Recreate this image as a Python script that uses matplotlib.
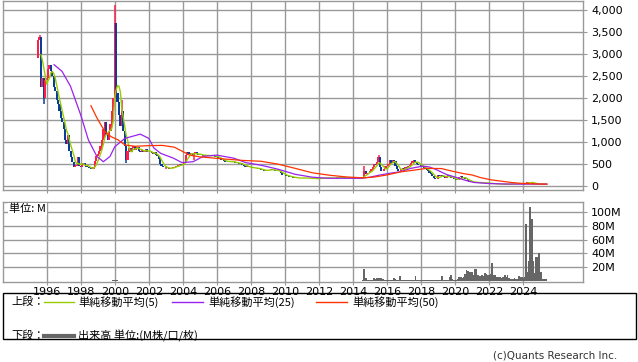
import numpy as np
import pandas as pd
import matplotlib
matplotlib.use('Agg')
from matplotlib import pyplot as plt
from matplotlib.patches import Rectangle
from matplotlib.lines import Line2D

plt.rcParams['font.family'] = ['DejaVu Sans', 'Noto Sans CJK JP']

# monthly closes, first month = 1995-07
start_year = 1995.5
first_open = 2900
close = [
    3300, 3380, 2250, 2450, 2000, 2400,                                  # 1995 (Jul-Dec)
    2450, 2650, 2750, 2600, 2500, 2250, 2150, 1950, 1850, 1700, 1550, 1450,  # 1996
    1300, 1050, 950, 1150, 800, 650, 550, 430, 460, 480, 650, 450,        # 1997
    430, 480, 510, 470, 440, 420, 400, 380, 390, 420, 560, 680,           # 1998
    720, 800, 900, 1050, 1300, 1450, 1150, 1050, 1250, 1400, 1700, 2000,  # 1999
    3700, 2100, 1900, 1600, 1350, 1700, 1250, 900, 600, 800, 850, 780,    # 2000
    850, 900, 820, 870, 880, 800, 780, 820, 760, 800, 830, 780,           # 2001
    780, 760, 740, 720, 760, 700, 680, 620, 500, 450, 430, 420,           # 2002
    420, 400, 390, 400, 410, 430, 440, 460, 450, 470, 500, 480,           # 2003
    490, 520, 700, 760, 730, 720, 740, 710, 730, 760, 720, 700,           # 2004
    700, 710, 690, 700, 680, 690, 700, 680, 690, 700, 670, 660,           # 2005
    650, 640, 620, 600, 580, 560, 550, 540, 560, 570, 550, 540,           # 2006
    540, 530, 510, 520, 500, 510, 480, 450, 440, 450, 430, 420,           # 2007
    420, 410, 400, 410, 400, 390, 380, 370, 360, 340, 350, 360,           # 2008
    370, 360, 380, 370, 360, 350, 350, 340, 330, 290, 260, 250,           # 2009
    240, 230, 220, 210, 200, 200, 190, 190, 185, 180, 170, 180,           # 2010
    190, 185, 170, 175, 180, 180, 175, 170, 165, 170, 165, 160,           # 2011
    170, 180, 190, 185, 180, 175, 180, 185, 180, 175, 180, 185,           # 2012
    190, 200, 195, 190, 185, 190, 185, 180, 185, 190, 185, 180,           # 2013
    180, 180, 175, 180, 185, 180, 190, 190, 330, 280, 300, 300,           # 2014
    350, 380, 420, 500, 480, 550, 650, 420, 350, 330, 380, 450,           # 2015
    450, 500, 580, 520, 600, 560, 450, 380, 330, 350, 380, 400,           # 2016
    390, 420, 410, 450, 480, 520, 560, 590, 540, 500, 480, 470,           # 2017
    450, 420, 400, 380, 360, 340, 300, 270, 230, 180, 150, 160,           # 2018
    240, 230, 260, 220, 200, 190, 210, 260, 200, 180, 170, 160,           # 2019
    150, 130, 140, 200, 230, 190, 170, 160, 150, 110, 100, 95,            # 2020
    90, 85, 80, 78, 75, 72, 75, 70, 72, 70, 68, 65,                       # 2021
    60, 55, 55, 50, 48, 45, 45, 42, 42, 40, 40, 38,                       # 2022
    38, 40, 42, 45, 45, 48, 50, 48, 45, 45, 48, 50,                       # 2023
    50, 55, 60, 90, 80, 85, 75, 55, 50, 48, 45, 45,                       # 2024
    45, 42, 40, 42, 40,                                                   # 2025
]

# months with visible wicks (index from 1995-07)
wick_high = {1: 3430, 54: 4100, 59: 1950, 110: 600, 230: 450, 240: 700, 346: 100}
wick_low = {4: 1850, 62: 520, 90: 380}

# longer moving averages (year, value)
ma25_years = [1996.43, 1996.9, 1997.4, 1998.0, 1998.45, 1998.95, 1999.33, 1999.72, 2000.0,
              2000.6, 2001.5, 2002.0, 2002.3, 2002.7, 2003.45, 2003.95, 2004.6, 2005.2,
              2006.0, 2007.0, 2007.7, 2008.6, 2009.6, 2010.6, 2011.6, 2012.5, 2014.5,
              2015.0, 2015.6, 2016.2, 2016.8, 2017.4, 2018.1, 2018.5, 2018.9, 2019.5,
              2020.1, 2020.6, 2021.1, 2022.0, 2023.0, 2024.0, 2025.4]
ma25_values = [2750, 2600, 2260, 1610, 1045, 670, 550, 670, 890,
               1080, 1175, 1080, 860, 740, 630, 530, 550, 670,
               700, 630, 530, 470, 380, 265, 200, 175, 175,
               200, 250, 290, 325, 400, 450, 430, 370, 260,
               190, 130, 80, 55, 45, 42, 42]
ma50_years = [1998.6, 1998.95, 1999.25, 1999.5, 1999.8, 2000.2, 2000.6, 2001.2, 2002.0,
              2002.8, 2003.5, 2004.0, 2004.4, 2005.0, 2005.6, 2006.5, 2007.5, 2008.6,
              2009.6, 2010.6, 2011.6, 2012.6, 2013.6, 2014.6, 2015.2, 2016.0, 2016.8,
              2017.6, 2018.35, 2019.2, 2019.9, 2020.5, 2021.0, 2021.5, 2022.1, 2022.7,
              2023.3, 2023.9, 2024.7, 2025.4]
ma50_values = [1820, 1545, 1345, 1200, 1115, 1045, 930, 900, 915,
               920, 880, 780, 700, 660, 640, 610, 580, 560,
               495, 400, 300, 245, 205, 185, 200, 250, 320,
               360, 400, 395, 330, 280, 250, 190, 140, 110,
               80, 60, 47, 42]

# monthly volume in millions
volume = [
    0.1, 0.1, 0.1, 0.1, 0.1, 0.1,                                          # 1995
    0.1, 0.1, 0.1, 0.1, 0.1, 0.1, 0.1, 0.1, 0.1, 0.1, 0.1, 0.1,            # 1996
    0.1, 0.1, 0.1, 0.1, 0.1, 0.1, 0.1, 0.1, 0.1, 0.1, 0.1, 0.1,            # 1997
    0.1, 0.1, 0.1, 0.1, 0.1, 0.1, 0.1, 0.1, 0.1, 0.1, 0.1, 0.1,            # 1998
    0.1, 0.1, 0.1, 0.1, 0.1, 0.1, 0.1, 0.1, 0.1, 0.2, 0.3, 0.5,            # 1999
    1.5, 1.0, 0.4, 0.2, 0.1, 0.1, 0.1, 0.1, 0.1, 0.1, 0.1, 0.1,            # 2000
    0.1, 0.1, 0.1, 0.1, 0.1, 0.1, 0.1, 0.1, 0.1, 0.1, 0.1, 0.1,            # 2001
    0.1, 0.1, 0.1, 0.1, 0.1, 0.1, 0.1, 0.1, 0.1, 0.1, 0.1, 0.1,            # 2002
    0.1, 0.1, 0.1, 0.1, 0.1, 0.1, 0.1, 0.1, 0.1, 0.1, 0.1, 0.1,            # 2003
    0.1, 0.1, 0.2, 0.2, 0.1, 0.1, 0.1, 0.1, 0.1, 0.1, 0.1, 0.1,            # 2004
    0.1, 0.1, 0.1, 0.1, 0.1, 0.1, 0.1, 0.1, 0.1, 0.1, 0.1, 0.1,            # 2005
    0.1, 0.1, 0.1, 0.1, 0.1, 0.1, 0.1, 0.1, 0.1, 0.1, 0.1, 0.1,            # 2006
    0.1, 0.1, 0.1, 0.1, 0.1, 0.1, 0.1, 0.1, 0.1, 0.1, 0.1, 0.1,            # 2007
    0.1, 0.1, 0.1, 0.1, 0.1, 0.1, 0.1, 0.1, 0.1, 0.1, 0.1, 0.1,            # 2008
    0.1, 0.1, 0.1, 0.1, 0.1, 0.1, 0.1, 0.1, 0.1, 0.1, 0.1, 0.1,            # 2009
    0.1, 0.1, 0.1, 0.1, 0.1, 0.1, 0.1, 0.1, 0.1, 0.1, 0.1, 0.1,            # 2010
    0.1, 0.1, 0.1, 0.1, 0.1, 0.1, 0.1, 0.1, 0.1, 0.1, 0.1, 0.1,            # 2011
    0.1, 0.1, 0.1, 0.1, 0.1, 0.1, 0.1, 0.1, 0.1, 0.1, 0.1, 0.1,            # 2012
    0.1, 0.1, 0.1, 0.1, 0.1, 0.1, 0.1, 0.1, 0.1, 0.1, 0.1, 0.1,            # 2013
    0.1, 0.1, 0.1, 0.1, 0.2, 0.2, 0.3, 0.5, 17.5, 4.0, 1.0, 0.8,           # 2014
    1.0, 1.0, 1.2, 3.5, 3.0, 3.5, 4.0, 3.5, 3.5, 3.0, 1.5, 1.0,            # 2015
    1.0, 0.8, 0.8, 1.0, 1.2, 4.0, 3.0, 1.0, 1.0, 7.5, 1.5, 1.0,            # 2016
    0.8, 0.8, 0.8, 0.8, 1.0, 1.0, 1.0, 1.0, 7.5, 1.5, 1.0, 1.0,            # 2017
    0.8, 0.8, 0.8, 0.8, 0.8, 0.8, 0.8, 1.0, 1.0, 1.0, 1.0, 1.0,            # 2018
    1.0, 1.0, 1.0, 7.5, 1.5, 1.0, 1.0, 1.0, 6.0, 8.5, 2.0, 1.0,            # 2019
    1.0, 1.0, 2.0, 5.0, 5.0, 4.0, 5.0, 10.0, 15.0, 14.0, 13.0, 12.0,       # 2020
    12.0, 9.0, 17.0, 17.5, 8.0, 7.0, 7.5, 8.5, 7.0, 11.0, 10.0, 8.8,       # 2021
    8.0, 10.0, 26.0, 9.0, 9.0, 6.0, 6.0, 6.0, 5.0, 4.0, 6.0, 8.0,          # 2022
    6.0, 8.5, 4.0, 3.0, 3.0, 3.0, 4.0, 3.0, 3.0, 7.0, 6.0, 5.0,            # 2023
    4.0, 5.0, 82.0, 12.0, 29.0, 108.0, 90.0, 29.0, 11.0, 35.0, 35.0, 41.0, # 2024
    12.0, 13.0, 3.0, 2.0, 2.0,                                             # 2025
]

ma_colors = ['#99CC00', '#9922EE', '#FF3300']
ma_labels = ['単純移動平均(5)', '単純移動平均(25)', '単純移動平均(50)']

price_ticks = [0, 500, 1000, 1500, 2000, 2500, 3000, 3500, 4000]
vol_ticks = [20, 40, 60, 80, 100]
year_ticks = list(range(1996, 2025, 2))

UP = '#FF1E4B'
DOWN = '#0A3C9B'
GRID = '#999999'

n = len(close)
x = start_year + np.arange(n) / 12.0
c = np.array(close, dtype=float)
o = np.concatenate([[first_open], c[:-1]])
hi = np.maximum(o, c)
lo = np.minimum(o, c)
for k, v in wick_high.items():
    hi[k] = v
for k, v in wick_low.items():
    lo[k] = v
colors = [UP if cc >= oo else DOWN for oo, cc in zip(o, c)]

W, H = 638, 362
fig = plt.figure(figsize=(W / 100, H / 100), dpi=100)
left, right = 3.3, 582.7
ax1 = fig.add_axes([left / W, 1 - 190 / H, (right - left) / W, 189.5 / H])
ax2 = fig.add_axes([left / W, 1 - 281.5 / H, (right - left) / W, (281.5 - 201.7) / H])

for ax in (ax1, ax2):
    ax.set_xlim(1993.45, 2027.5)
    ax.set_xticks(year_ticks)
    ax.grid(True, color=GRID, lw=1.0)
    ax.set_axisbelow(True)
    for s in ax.spines.values():
        s.set_color(GRID)
        s.set_linewidth(1.0)
    ax.yaxis.tick_right()
    ax.tick_params(axis='y', length=3, color=GRID, labelsize=8, pad=3)
    ax.tick_params(axis='x', length=2, color=GRID, labelsize=8, pad=2)

# price candles
ax1.vlines(x, lo, hi, colors=colors, lw=1.1, zorder=2)
ax1.bar(x, np.maximum(o, c) - np.minimum(o, c), bottom=np.minimum(o, c),
        width=0.13, color=colors, lw=0, zorder=2)

ma5 = pd.Series(c).rolling(5, min_periods=3).mean()
ax1.plot(x, ma5, color=ma_colors[0], lw=1.0, zorder=3)
ax1.plot(ma25_years, ma25_values, color=ma_colors[1], lw=0.9, zorder=3)
ax1.plot(ma50_years, ma50_values, color=ma_colors[2], lw=0.9, zorder=3)

ax1.set_ylim(-91, 4205)
ax1.set_yticks(price_ticks)
ax1.set_yticklabels([f'{v:,}' for v in price_ticks])
ax1.set_xticklabels([])

# volume
ax2.bar(x, volume, width=0.1, color='#666666', lw=0, zorder=2)
ax2.set_ylim(-1.1, 115)
ax2.set_yticks(vol_ticks)
ax2.set_yticklabels([f'{v}M' for v in vol_ticks])
ax2.set_xticklabels([str(y) for y in year_ticks])

jp = ['Noto Sans CJK JP', 'DejaVu Sans']
fig.text(9 / W, 1 - 209 / H, '単位: M', fontsize=8, va='center', ha='left', family=jp,
         bbox=dict(facecolor='white', edgecolor='none', pad=0.5), zorder=5)

# legend box
fig.add_artist(Rectangle((3 / W, 1 - 339 / H), 633 / W, 46 / H, transform=fig.transFigure,
                         fill=False, edgecolor='black', lw=1.0))
fig.text(11 / W, 1 - 302 / H, '上段：', fontsize=8, va='center', family=jp)
fig.text(11 / W, 1 - 336 / H, '下段：', fontsize=8, va='center', family=jp)
for (x0, x1, tx), col, lab in zip([(44, 74, 78), (172, 203, 208), (316, 347, 352)], ma_colors, ma_labels):
    fig.add_artist(Line2D([x0 / W, x1 / W], [1 - 302 / H] * 2, color=col, lw=1.0,
                          transform=fig.transFigure))
    fig.text(tx / W, 1 - 302 / H, lab, fontsize=8, va='center', family=jp)
fig.add_artist(Line2D([44 / W, 74 / W], [1 - 336 / H] * 2, color='#666666', lw=3.0,
                      transform=fig.transFigure))
fig.text(78 / W, 1 - 336 / H, '出来高 単位:(M株/口/枚)', fontsize=8, va='center', family=jp)

fig.text(617 / W, 1 - 356 / H, '(c)Quants Research Inc.', fontsize=7.5, va='center',
         ha='right', color='#333333')

fig.savefig('out.png', dpi=100)
